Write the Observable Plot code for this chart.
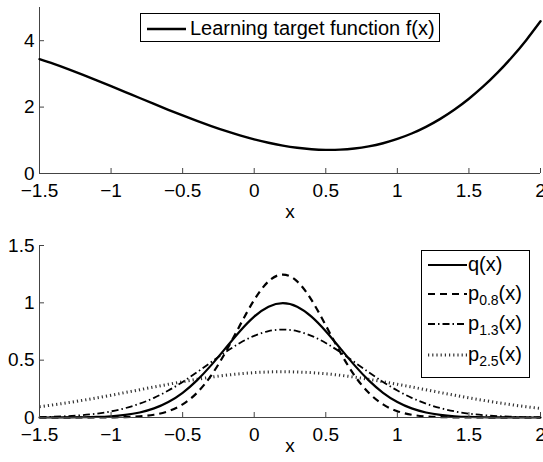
<!DOCTYPE html>
<html><head><meta charset="utf-8">
<script src="https://cdn.jsdelivr.net/npm/d3@7"></script>
<script src="https://cdn.jsdelivr.net/npm/@observablehq/plot@0.6"></script>
<style>
body{margin:0;background:#fff;}
#fig{position:relative;width:543px;height:462px;background:#fff;font-family:"Liberation Sans",Arial,sans-serif;color:#000;overflow:hidden}
#fig svg{display:block}
.leg{position:absolute;border:1.4px solid #000;background:#fff;box-sizing:border-box;}
.leg svg.samp{position:absolute;left:0;top:0;overflow:visible}
.lab{position:absolute;font-size:20px;line-height:20px;white-space:nowrap}
.lab sub{font-size:14px;vertical-align:-5px;line-height:0}
</style>
</head><body>
<div id="fig"></div>
<script>
// ---- data ----
const xs = [-1.5,-1.4,-1.3,-1.2,-1.1,-1.0,-0.9,-0.8,-0.7,-0.6,-0.5,-0.4,-0.3,-0.2,-0.1,0.0,0.1,0.2,0.3,0.4,0.5,0.6,0.7,0.8,0.9,1.0,1.1,1.2,1.3,1.4,1.5,1.6,1.7,1.8,1.9,2.0];
const fTarget = [3.443,3.299,3.143,2.979,2.808,2.633,2.454,2.274,2.095,1.919,1.748,1.583,1.427,1.281,1.147,1.028,0.925,0.840,0.775,0.732,0.713,0.719,0.753,0.817,0.912,1.041,1.205,1.406,1.646,1.927,2.252,2.621,3.037,3.501,4.017,4.585];
const qX = [0.0001,0.0003,0.0009,0.0022,0.0051,0.0111,0.0227,0.0438,0.0793,0.1350,0.2157,0.3238,0.4566,0.6049,0.7529,0.8802,0.9667,0.9974,0.9667,0.8802,0.7529,0.6049,0.4566,0.3238,0.2157,0.1350,0.0793,0.0438,0.0227,0.0111,0.0051,0.0022,0.0009,0.0003,0.0001,0.0000];
const p08 = [0,0,0,0.0001,0.0003,0.0011,0.0034,0.0094,0.0239,0.0548,0.1140,0.2150,0.3678,0.5708,0.8034,1.0255,1.1873,1.2467,1.1873,1.0255,0.8034,0.5708,0.3678,0.2150,0.1140,0.0548,0.0239,0.0094,0.0034,0.0011,0.0003,0.0001,0,0,0,0];
const p13 = [0.0037,0.0068,0.0120,0.0205,0.0337,0.0535,0.0819,0.1207,0.1716,0.2349,0.3100,0.3943,0.4832,0.5707,0.6496,0.7125,0.7531,0.7672,0.7531,0.7125,0.6496,0.5707,0.4832,0.3943,0.3100,0.2349,0.1716,0.1207,0.0819,0.0535,0.0337,0.0205,0.0120,0.0068,0.0037,0.0019];
const p25 = [0.0941,0.1109,0.1295,0.1497,0.1714,0.1942,0.2179,0.2420,0.2661,0.2897,0.3123,0.3332,0.3521,0.3683,0.3814,0.3910,0.3970,0.3989,0.3970,0.3910,0.3814,0.3683,0.3521,0.3332,0.3123,0.2897,0.2661,0.2420,0.2179,0.1942,0.1714,0.1497,0.1295,0.1109,0.0941,0.0790];
const xTicks = [-1.5,-1,-0.5,0,0.5,1,1.5,2];
const yTicksTop = [0,2,4];
const yTicksBottom = [0,0.5,1,1.5];
const xLabel = "x";
const topLegend = "Learning target function f(x)";

const fig = document.getElementById("fig");
const AX = "#444";
const fmt = d => String(d).replace("-", "\u2212");
const style = {fontFamily:'"Liberation Sans", Arial, sans-serif', fontSize:"19px", color:"#000", background:"transparent", overflow:"visible"};
const rows = arr => xs.map((x,i) => ({x, y: arr[i]}));

// inward MATLAB-style ticks; tick length expressed via the scale so it is ~5px
function axes(yTicks, xDom, yDom, labelDy, pxPerX, pxPerY) {
  const tx = 5 / pxPerX, ty = 5 / pxPerY;
  return [
    Plot.ruleY([yDom[0]], {stroke: AX, strokeWidth: 1}),
    Plot.ruleX([xDom[0]], {stroke: AX, strokeWidth: 1}),
    Plot.ruleX(xTicks, {x: d => d, y1: yDom[0], y2: yDom[0] + ty, stroke: AX, strokeWidth: 1}),
    Plot.ruleY(yTicks, {y: d => d, x1: xDom[0], x2: xDom[0] + tx, stroke: AX, strokeWidth: 1}),
    Plot.axisX({ticks: xTicks, tickSize: 0, tickPadding: 10, tickFormat: fmt, label: null, fill: "#000"}),
    Plot.axisY({ticks: yTicks, tickSize: 0, tickPadding: 5, tickFormat: fmt, label: null, fill: "#000"}),
    Plot.text([xLabel], {frameAnchor: "bottom", dy: labelDy, text: d => d, fontSize: 19, lineAnchor: "middle"})
  ];
}

const topChart = Plot.plot({
  width: 543, height: 231,
  marginLeft: 39, marginRight: 3, marginTop: 7, marginBottom: 58,
  x: {domain: [-1.5, 2]}, y: {domain: [0, 5]},
  style,
  marks: [
    ...axes(yTicksTop, [-1.5, 2], [0, 5], 38, 501 / 3.5, 166 / 5),
    Plot.line(rows(fTarget), {x: "x", y: "y", stroke: "#000", strokeWidth: 2.4, curve: "natural"})
  ]
});

const bottomChart = Plot.plot({
  width: 543, height: 231,
  marginLeft: 39, marginRight: 3, marginTop: 14, marginBottom: 45,
  x: {domain: [-1.5, 2]}, y: {domain: [0, 1.5]},
  style,
  marks: [
    Plot.line(rows(p25), {x: "x", y: "y", stroke: "#333", strokeWidth: 3, strokeDasharray: "1.2,3", strokeLinecap: "butt", curve: "natural"}),
    Plot.line(rows(p13), {x: "x", y: "y", stroke: "#000", strokeWidth: 1.8, strokeDasharray: "7,3,1.5,3", strokeLinecap: "butt", curve: "natural"}),
    Plot.line(rows(p08), {x: "x", y: "y", stroke: "#000", strokeWidth: 2.2, strokeDasharray: "7,5", strokeLinecap: "butt", curve: "natural"}),
    Plot.line(rows(qX), {x: "x", y: "y", stroke: "#000", strokeWidth: 2.2, curve: "natural"}),
    ...axes(yTicksBottom, [-1.5, 2], [0, 1.5], 28, 501 / 3.5, 172 / 1.5)
  ]
});

fig.appendChild(topChart);
fig.appendChild(bottomChart);

// ---- legends ----
function legend(box, entries) {
  const d = document.createElement("div");
  d.className = "leg";
  Object.assign(d.style, {left: box.left + "px", top: box.top + "px", width: box.width + "px", height: box.height + "px"});
  const ns = "http://www.w3.org/2000/svg";
  const svg = document.createElementNS(ns, "svg");
  svg.setAttribute("class", "samp");
  svg.setAttribute("width", box.width); svg.setAttribute("height", box.height);
  entries.forEach(e => {
    const l = document.createElementNS(ns, "line");
    l.setAttribute("x1", e.x1); l.setAttribute("x2", e.x2);
    l.setAttribute("y1", e.y); l.setAttribute("y2", e.y);
    l.setAttribute("stroke", e.stroke || "#000");
    l.setAttribute("stroke-width", e.w);
    if (e.dash) l.setAttribute("stroke-dasharray", e.dash);
    svg.appendChild(l);
    const s = document.createElement("div");
    s.className = "lab";
    s.innerHTML = e.html;
    s.style.left = e.tx + "px";
    s.style.top = (e.y - 11) + "px";
    d.appendChild(s);
  });
  d.appendChild(svg);
  fig.appendChild(d);
}

legend({left: 140, top: 13, width: 300, height: 29}, [
  {x1: 6, x2: 45, y: 15, w: 2.4, html: topLegend, tx: 49}
]);

legend({left: 421, top: 250, width: 109, height: 128}, [
  {x1: 6, x2: 45, y: 14, w: 2.2, html: "q(x)", tx: 46},
  {x1: 6, x2: 45, y: 43, w: 2.2, dash: "7,5", html: "p<sub>0.8</sub>(x)", tx: 46},
  {x1: 6, x2: 45, y: 73, w: 1.8, dash: "7,3,1.5,3", html: "p<sub>1.3</sub>(x)", tx: 46},
  {x1: 6, x2: 45, y: 104, w: 3, stroke: "#333", dash: "1.2,3", html: "p<sub>2.5</sub>(x)", tx: 46}
]);
</script>
</body></html>
